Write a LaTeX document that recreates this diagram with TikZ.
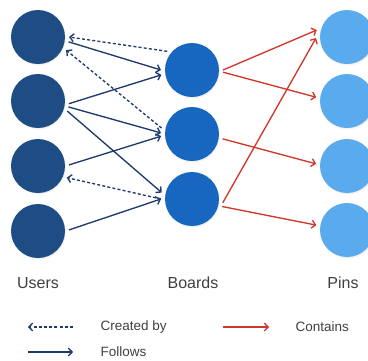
\documentclass[tikz,border=0pt]{standalone}
\usepackage{fontspec}
\setmainfont{Liberation Sans}
\usetikzlibrary{arrows.meta,shadows}
\definecolor{usercol}{HTML}{1E4C84}
\definecolor{boardcol}{HTML}{1766C0}
\definecolor{pincol}{HTML}{5AABEE}
\definecolor{navy}{HTML}{1E3A6E}
\definecolor{redline}{HTML}{D0382C}
\definecolor{txt}{HTML}{404040}
\tikzset{
  dot/.style={circle, minimum size=54pt, inner sep=0pt, outer sep=4pt,
    circular drop shadow={shadow xshift=0.6pt, shadow yshift=-1.2pt, opacity=0.25, shadow scale=1.02}},
  user/.style={dot, fill=usercol},
  board/.style={dot, fill=boardcol},
  pin/.style={dot, fill=pincol},
  tip/.style={-{Straight Barb[length=3.8pt,width=8pt]}},
  created/.style={tip, navy, line width=1.35pt, dash pattern=on 3pt off 2.2pt},
  follows/.style={tip, navy, line width=1.35pt},
  contains/.style={tip, redline, line width=1.35pt},
  title/.style={text=txt, font=\fontsize{16}{19}\selectfont},
  legend/.style={text=txt, font=\fontsize{13.5}{16}\selectfont, anchor=west}
}
\begin{document}
\begin{tikzpicture}[x=1pt, y=-1pt]
  \useasboundingbox (0,0) rectangle (368,360);
  \clip (0,0) rectangle (368,360);

  % users
  \node[user] (u1) at (38,37) {};
  \node[user] (u2) at (38,101) {};
  \node[user] (u3) at (38,166) {};
  \node[user] (u4) at (38,231) {};
  % boards
  \node[board] (b1) at (192,70) {};
  \node[board] (b2) at (192,134) {};
  \node[board] (b3) at (192,199) {};
  % pins
  \node[pin] (p1) at (347,37) {};
  \node[pin] (p2) at (347,101) {};
  \node[pin] (p3) at (347,166) {};
  \node[pin] (p4) at (347,230) {};

  % created by
  \draw[created] (b1.143) -- (u1.0);
  \draw[created] (b2.169) -- (u1.-25);
  \draw[created] (b3.180) -- (u3.-22);

  % follows
  \draw[follows] (u1.-9) -- (b1.180);
  \draw[follows] (u2.-5) -- (b1.-171);
  \draw[follows] (u2.-11) -- (b2.178);
  \draw[follows] (u2.-19) -- (b3.168);
  \draw[follows] (u3.2) -- (b2.184);
  \draw[follows] (u4.2) -- (b3.180);

  % contains
  \draw[contains] (b1.0) -- (p1.167);
  \draw[contains] (b1.-4) -- (p2.173);
  \draw[contains] (b2.-9) -- (p3.176);
  \draw[contains] (b3.-7) -- (p1.182);
  \draw[contains] (b3.-14) -- (p4.171);

  % column titles
  \node[title] (tu) at (38,283) {Users};
  \node[title] (tb) at (193,283) {Boards};
  \node[title] (tp) at (343,283) {Pins};

  % legend
  \coordinate (lc1) at (28,327);
  \coordinate (lc2) at (73,327);
  \coordinate (lf1) at (28,352);
  \coordinate (lf2) at (73,352);
  \coordinate (lr1) at (223,327);
  \coordinate (lr2) at (269,327);
  \draw[created] (lc2) -- (lc1);
  \draw[follows] (lf1) -- (lf2);
  \draw[contains] (lr1) -- (lr2);
  \node[legend] (lct) at (97,327) {Created by};
  \node[legend] (lft) at (97,352) {Follows};
  \node[legend] (lrt) at (292,327) {Contains};
\end{tikzpicture}
\end{document}
